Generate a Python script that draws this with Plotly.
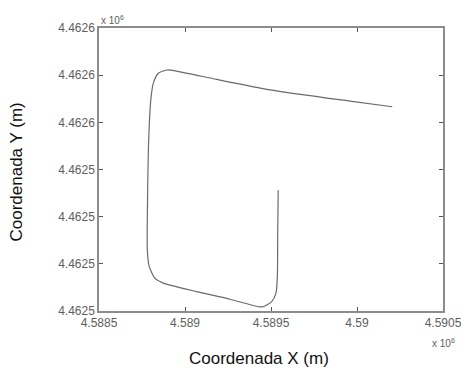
import plotly.graph_objects as go

# Trajectory (m)
x_m = [458954.2, 458953.9, 458953.7, 458952.9, 458950.4, 458945.5, 458942.6,
       458926.2, 458906.8, 458887.4, 458882.6, 458879.2, 458878.1, 458878.1,
       458878.7, 458880.1, 458881.6, 458884.5, 458889.4, 458897.1, 458918.4,
       458949.4, 458995.9, 459020.5]
y_m = [4462535.6, 4462526.5, 4462517.3, 4462513.8, 4462512.0, 4462510.9, 4462510.9,
       4462512.5, 4462514.1, 4462515.9, 4462516.9, 4462519.4, 4462522.9, 4462530.0,
       4462544.1, 4462554.7, 4462558.3, 4462560.4, 4462561.1, 4462560.7, 4462559.1,
       4462556.9, 4462554.5, 4462553.3]

x_tickvals = [458850, 458900, 458950, 459000, 459050]
x_ticktext = ["4.5885", "4.589", "4.5895", "4.59", "4.5905"]
y_tickvals = [4462510, 4462520, 4462530, 4462540, 4462550, 4462560, 4462570]
y_ticktext = ["4.4625", "4.4625", "4.4625", "4.4625", "4.4626", "4.4626", "4.4626"]

FONT = "Liberation Sans, Arial, sans-serif"

fig = go.Figure()
fig.add_trace(go.Scatter(x=x_m, y=y_m, mode="lines",
                         line=dict(color="#6a6a6a", width=1.2, shape="spline", smoothing=0.6),
                         showlegend=False))

axis_common = dict(showline=True, linecolor="#8c8c8c", linewidth=1.5, mirror="ticks",
                   ticks="inside", ticklen=4, tickcolor="#555555", tickwidth=1,
                   showgrid=False, zeroline=False, automargin=False,
                   tickfont=dict(family=FONT, size=12, color="#5e5e5e"))

fig.update_layout(
    width=465, height=368,
    margin=dict(l=99, r=22, t=28, b=57),
    paper_bgcolor="white", plot_bgcolor="white",
    xaxis=dict(range=[458850, 459050], tickvals=x_tickvals, ticktext=x_ticktext,
               **axis_common),
    yaxis=dict(range=[4462510, 4462570], tickvals=y_tickvals, ticktext=y_ticktext,
               **axis_common),
    annotations=[
        dict(text="Coordenada X (m)", xref="paper", yref="paper", x=0.465, y=0.0,
             xanchor="center", yanchor="middle", yshift=-47, showarrow=False,
             font=dict(family=FONT, size=17, color="#111111")),
        dict(text="Coordenada Y (m)", xref="paper", yref="paper", x=0.0, y=0.5,
             xanchor="center", yanchor="middle", xshift=-83, yshift=-3, textangle=-90,
             showarrow=False, font=dict(family=FONT, size=17, color="#111111")),
        dict(text="x 10<sup>6</sup>", xref="paper", yref="paper", x=0.0, y=1.0,
             xanchor="left", yanchor="bottom", showarrow=False,
             font=dict(family=FONT, size=10, color="#5e5e5e")),
        dict(text="x 10<sup>6</sup>", xref="paper", yref="paper", x=1.0, y=0.0,
             xanchor="center", yanchor="top", showarrow=False, yshift=-24,
             font=dict(family=FONT, size=10, color="#5e5e5e")),
    ],
)

fig.write_html("out.html", config={"displayModeBar": False},
               post_script="document.body.style.margin='0';document.body.style.overflow='hidden';")
